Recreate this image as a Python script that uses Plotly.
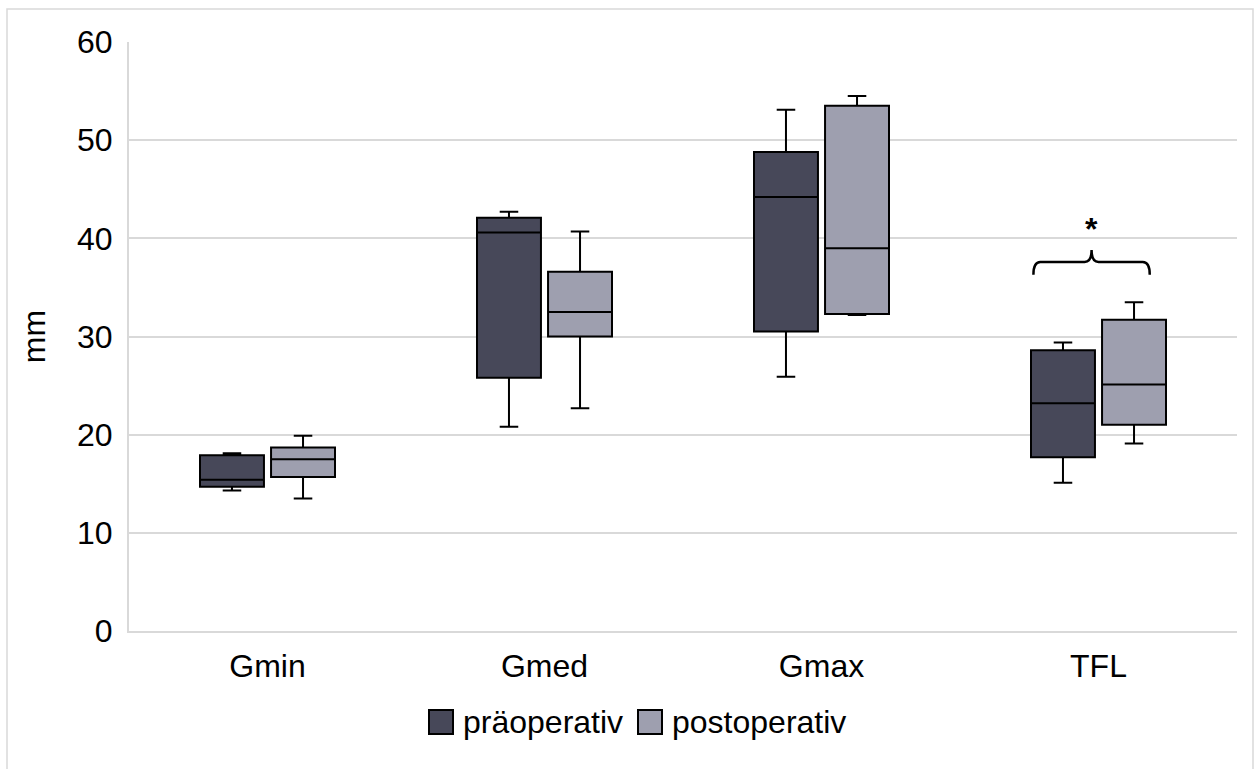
import plotly.graph_objects as go

categories = ["Gmin", "Gmed", "Gmax", "TFL"]
positions = [0, 1, 2, 3]

pre_min = [14.3, 20.8, 25.9, 15.1]
pre_q1 = [14.7, 25.8, 30.5, 17.7]
pre_med = [15.4, 40.6, 44.2, 23.2]
pre_q3 = [17.9, 42.1, 48.8, 28.6]
pre_max = [18.1, 42.7, 53.1, 29.4]

post_min = [13.5, 22.7, 32.2, 19.1]
post_q1 = [15.7, 30.0, 32.3, 21.0]
post_med = [17.5, 32.5, 39.0, 25.1]
post_q3 = [18.7, 36.6, 53.5, 31.7]
post_max = [19.9, 40.7, 54.5, 33.5]

y_ticks = [0, 10, 20, 30, 40, 50, 60]
series_names = ["präoperativ", "postoperativ"]
colors = ["#474859", "#9E9FAF"]

FONT = "Arial, Liberation Sans, sans-serif"
W, H = 1254, 769
ML, MR, MT, MB = 129, 17, 42, 138
PW, PH = W - ML - MR, H - MT - MB


def px_x(px):
    return (px - ML) / PW


def px_y(py):
    return (H - MB - py) / PH


fig = go.Figure()
for name, col, mn, q1, md, q3, mx in [
    (series_names[0], colors[0], pre_min, pre_q1, pre_med, pre_q3, pre_max),
    (series_names[1], colors[1], post_min, post_q1, post_med, post_q3, post_max),
]:
    fig.add_trace(go.Box(
        x=positions, q1=q1, median=md, q3=q3, lowerfence=mn, upperfence=mx,
        name=name, fillcolor=col, line=dict(color="black", width=2),
        whiskerwidth=0.29, showlegend=False, hoverinfo="skip",
    ))

# manual legend (squares + labels)
legend_items = [(series_names[0], colors[0], 429, 461), (series_names[1], colors[1], 638, 670)]
for name, col, sx, tx in legend_items:
    fig.add_shape(type="rect", xref="paper", yref="paper",
                  x0=px_x(sx), x1=px_x(sx + 24), y0=px_y(734), y1=px_y(710),
                  fillcolor=col, line=dict(color="black", width=2))
    fig.add_annotation(xref="paper", yref="paper", x=px_x(tx), y=px_y(722),
                       xanchor="left", yanchor="middle", text=name,
                       showarrow=False, font=dict(size=32, color="black", family=FONT))

# significance bracket over TFL
c = positions[3]
xl, xr, xm = c - 0.235, c + 0.185, c - 0.025
yh, ye, yp = 37.6, 36.3, 38.8
d = 0.025
path = (f"M {xl},{ye} Q {xl},{yh} {xl+d},{yh} L {xm-d},{yh} Q {xm},{yh} {xm},{yp} "
        f"Q {xm},{yh} {xm+d},{yh} L {xr-d},{yh} Q {xr},{yh} {xr},{ye}")
fig.add_shape(type="path", path=path, xref="x", yref="y",
              line=dict(color="black", width=2.5))
fig.add_annotation(x=xm, y=41.0, text="<b>*</b>", showarrow=False,
                   font=dict(size=32, color="black", family=FONT))

# outer chart border
fig.add_shape(type="rect", xref="paper", yref="paper",
              x0=px_x(7), x1=px_x(1253), y0=px_y(790), y1=px_y(9),
              line=dict(color="#d9d9d9", width=1.5), layer="below")

fig.update_layout(
    width=W, height=H,
    margin=dict(l=ML, r=MR, t=MT, b=MB),
    paper_bgcolor="white", plot_bgcolor="white",
    boxmode="group", boxgap=0.487, boxgroupgap=0.1,
    font=dict(family=FONT, size=32, color="black"),
    showlegend=False,
    xaxis=dict(range=[-0.5, 3.5], tickvals=positions, ticktext=categories,
               showgrid=False, zeroline=False, ticks="", showline=True,
               linecolor="#d9d9d9", linewidth=2,
               ticklabelstandoff=6),
    yaxis=dict(range=[0, 60], tickvals=y_ticks, showgrid=True,
               gridcolor="#d9d9d9", gridwidth=2, zeroline=False,
               showline=True, linecolor="#d9d9d9", linewidth=2, ticks="",
               ticklabelstandoff=8,
               title=dict(text="mm", standoff=22, font=dict(size=32))),
)

fig.write_html("out.html")
